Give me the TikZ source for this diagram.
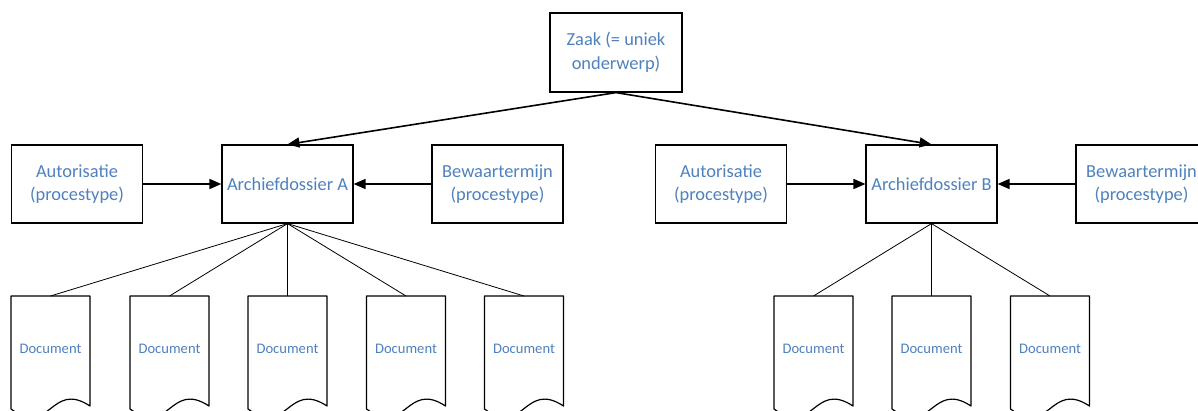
\documentclass[tikz,border=0pt]{standalone}
\usepackage{fontspec}
\setmainfont{Carlito}
\usetikzlibrary{arrows.meta}
\definecolor{txtblue}{HTML}{4F81BD}
\tikzset{
  box/.style={draw=black, line width=1.2pt, minimum width=131pt, minimum height=78pt,
    inner sep=0pt, align=center, text=txtblue, font=\fontsize{18.4}{23.5}\selectfont},
  doctext/.style={inner sep=0pt, text=txtblue, font=\fontsize{14.6}{17}\selectfont},
  docline/.style={draw=black, line width=1.2pt, line join=round},
  arr/.style={line width=1.6pt, -{Triangle[length=12pt,width=10pt]}},
  tree/.style={line width=0.8pt}
}
\newcommand{\docbox}[2]{%
  \draw[docline] (#2,296) -- (#2,409) .. controls (#2+39.5,438) and (#2+39.5,380) .. (#2+79,406) -- (#2+79,296) -- cycle;
  \node[doctext] (#1) at (#2+39.5,349) {Document};
  \coordinate (#1top) at (#2+39.5,296);
}
\begin{document}
\begin{tikzpicture}[x=1pt,y=-1pt]
\useasboundingbox (0,0) rectangle (1198,411);
\clip (0,0) rectangle (1198,411);
\fill[white] (0,0) rectangle (1198,411);
\node[box, minimum width=132pt, minimum height=79pt] (zaak) at (616,52.5) {Zaak (= uniek\\onderwerp)};
\node[box] (autA) at (77,184) {Autorisatie\\(procestype)};
\node[box] (arcA) at (287.5,184) {Archiefdossier A};
\node[box] (bewA) at (497.5,184) {Bewaartermijn\\(procestype)};
\node[box] (autB) at (721,184) {Autorisatie\\(procestype)};
\node[box] (arcB) at (931.5,184) {Archiefdossier B};
\node[box] (bewB) at (1141.5,184) {Bewaartermijn\\(procestype)};
\draw[arr] (zaak.south) -- (arcA.north);
\draw[arr] (zaak.south) -- (arcB.north);
\draw[arr] (autA.east) -- (arcA.west);
\draw[arr] (bewA.west) -- (arcA.east);
\draw[arr] (autB.east) -- (arcB.west);
\draw[arr] (bewB.west) -- (arcB.east);
\docbox{dA1}{11}
\docbox{dA2}{130}
\docbox{dA3}{248}
\docbox{dA4}{366.5}
\docbox{dA5}{484.5}
\docbox{dB1}{774}
\docbox{dB2}{892}
\docbox{dB3}{1010.5}
\foreach \d in {dA1,dA2,dA3,dA4,dA5} \draw[tree] (arcA.south) -- (\d top);
\foreach \d in {dB1,dB2,dB3} \draw[tree] (arcB.south) -- (\d top);
\end{tikzpicture}
\end{document}
